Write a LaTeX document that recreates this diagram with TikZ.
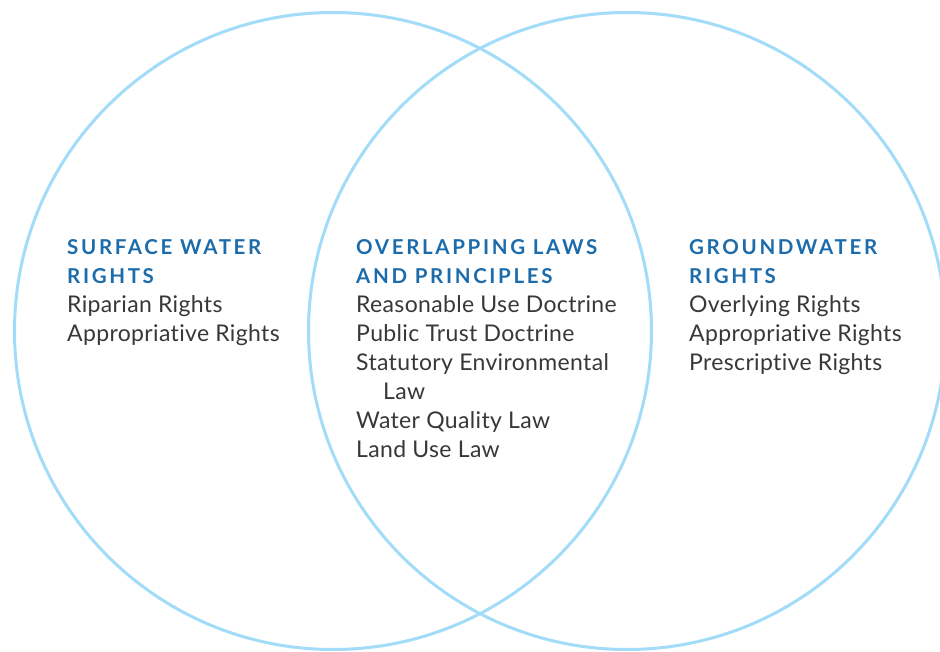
\documentclass[tikz,border=0pt]{standalone}
\usepackage{fontspec}
\setmainfont{Lato}[Ligatures=NoCommon, LetterSpace=1.5]
\newfontfamily\headfont{Lato}[LetterSpace=13]
\definecolor{ringblue}{HTML}{A2DCF8}
\definecolor{headblue}{HTML}{1C6CAB}
\definecolor{bodygray}{HTML}{383838}
\tikzset{
  ring/.style={draw=ringblue, line width=3pt},
  headtxt/.style={anchor=base west, inner sep=0pt, text=headblue, font=\headfont\bfseries\fontsize{20.5}{24}\selectfont},
  bodytxt/.style={anchor=base west, inner sep=0pt, text=bodygray, font=\fontsize{23}{27}\selectfont},
}
\begin{document}
\begin{tikzpicture}[x=1pt,y=-1pt]
\useasboundingbox (0,0) rectangle (940,651);
\clip (0,0) rectangle (940,651);
\fill[white] (0,0) rectangle (940,651);
\draw[ring] (333,331) circle[radius=318.5];
\draw[ring] (627,331) circle[radius=318.5];
% left
\node[headtxt] (l1) at (67,254) {SURFACE WATER};
\node[headtxt] (l2) at (67,283) {RIGHTS};
\node[bodytxt] (l3) at (67,312) {Riparian Rights};
\node[bodytxt] (l4) at (67,341) {Appropriative Rights};
% middle
\node[headtxt] (m1) at (356,254) {OVERLAPPING LAWS};
\node[headtxt] (m2) at (356,283) {AND PRINCIPLES};
\node[bodytxt] (m3) at (356,312) {Reasonable Use Doctrine};
\node[bodytxt] (m4) at (356,341) {Public Trust Doctrine};
\node[bodytxt] (m5) at (356,370) {Statutory Environmental};
\node[bodytxt] (m6) at (383,399) {Law};
\node[bodytxt] (m7) at (356,428) {Water Quality Law};
\node[bodytxt] (m8) at (356,457) {Land Use Law};
% right
\node[headtxt] (r1) at (689,254) {GROUNDWATER};
\node[headtxt] (r2) at (689,283) {RIGHTS};
\node[bodytxt] (r3) at (689,312) {Overlying Rights};
\node[bodytxt] (r4) at (689,341) {Appropriative Rights};
\node[bodytxt] (r5) at (689,370) {Prescriptive Rights};
\end{tikzpicture}
\end{document}
